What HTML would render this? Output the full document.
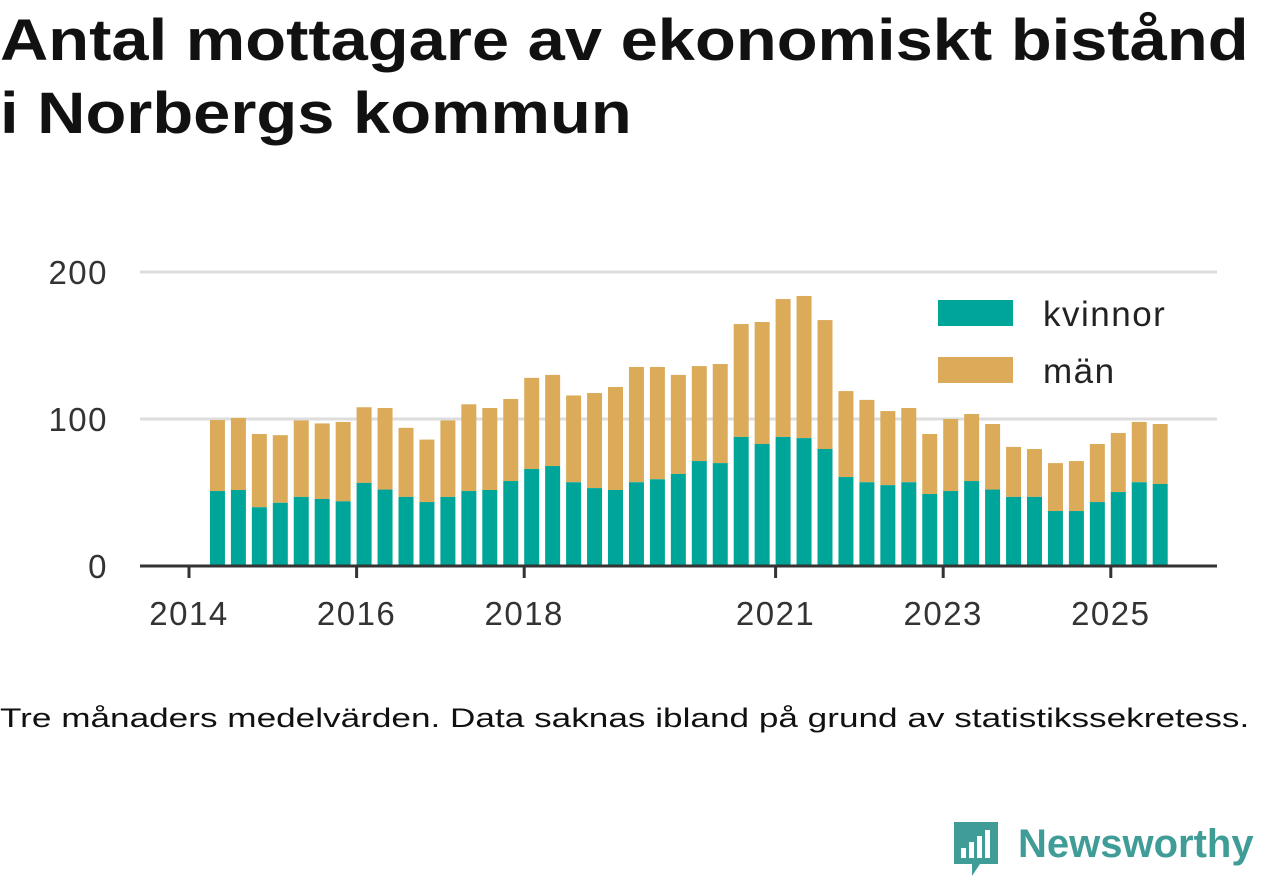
<!DOCTYPE html>
<html><head><meta charset="utf-8"><style>
body{margin:0;background:#fff;width:1262px;height:879px;overflow:hidden;font-family:"Liberation Sans",sans-serif;}
h1{position:absolute;left:0;top:4px;margin:0;font-size:58px;line-height:73px;font-weight:bold;color:#111;transform:scaleX(1.153);transform-origin:0 0;white-space:nowrap}
.note{position:absolute;left:0;top:703px;font-size:27px;color:#111;transform:scaleX(1.302);transform-origin:0 0;white-space:nowrap}
</style></head><body>
<h1>Antal mottagare av ekonomiskt bistånd<br>i Norbergs kommun</h1>
<svg id="chart" width="1262" height="879" style="position:absolute;left:0;top:0"></svg>
<div class="note">Tre månaders medelvärden. Data saknas ibland på grund av statistikssekretess.</div>
<div style="position:absolute;left:952px;top:820px;width:310px;height:60px">
<svg width="50" height="60"><path d="M2 2h44v42H28l-8 12v-12H2z" fill="#3f9c96"/><rect x="9" y="28" width="5" height="10" fill="#fff"/><rect x="17" y="22" width="5" height="16" fill="#fff"/><rect x="25" y="16" width="5" height="22" fill="#fff"/><rect x="33" y="10" width="5" height="28" fill="#fff"/></svg>
<span style="position:absolute;left:66px;top:2px;font-size:40px;font-weight:bold;color:#3f9c96">Newsworthy</span></div>
<script>
const kvinnor=[51,51.7,40,43,47,45.6,44,56.5,52,47,43.5,47,51,51.7,57.8,66,68,57,53,51.7,57,59,62.6,71.4,70,87.8,83,87.8,87,79.6,60.5,57,55,57,49,51,57.8,52,47,47,37.4,37.4,43.5,50.3,57,55.8];
const totals=[99.3,100.7,89.8,89,99,97,98,108,107.5,94,86,99,110,107.5,113.6,128,130,116,117.7,121.8,135.4,135.4,130,136,137.4,164.6,166,181.6,183.7,167.3,119,113,105.4,107.5,89.8,100,103.4,96.6,81,79.6,70,71.4,83,90.5,98,96.6];
const yTicks=[0,100,200];
const xTicks=[2014,2016,2018,2021,2023,2025];
const startYear=2014.25;
const NS="http://www.w3.org/2000/svg";
const svg=document.getElementById('chart');
const ys=v=>566-v*1.47;
const xs=t=>189+(t-2014)*83.8;
function mk(tag,attrs,txt){const e=document.createElementNS(NS,tag);for(const k in attrs)e.setAttribute(k,attrs[k]);if(txt!=null)e.textContent=txt;svg.appendChild(e);return e;}
yTicks.forEach(v=>{
 if(v>0){const g=mk('line',{x1:140,x2:1217,y1:ys(v),y2:ys(v),stroke:'#ddd','stroke-width':3});
 
 }
 const t=mk('text',{x:108,y:ys(v)+12,'text-anchor':'end','font-size':33,'letter-spacing':1.5,fill:'#333','font-family':'Liberation Sans, sans-serif'},v);
 
 
});
totals.forEach((tot,i)=>{
 const x=xs(startYear+i/4);
 const m=mk('rect',{x:x,y:ys(tot),width:15,height:ys(kvinnor[i])-ys(tot),fill:'#dbab5a'});
 
 
 const k=mk('rect',{x:x,y:ys(kvinnor[i]),width:15,height:566-ys(kvinnor[i]),fill:'#00a59a'});
 
 
});
const ax=mk('line',{x1:140,x2:1217,y1:566,y2:566,stroke:'#333','stroke-width':3});


xTicks.forEach(y=>{
 const l=mk('line',{x1:xs(y),x2:xs(y),y1:566,y2:578,stroke:'#333','stroke-width':3});
 
 
 const t=mk('text',{x:xs(y),y:625,'text-anchor':'middle','font-size':33,'letter-spacing':1.5,fill:'#333','font-family':'Liberation Sans, sans-serif'},y);
 
 
});
[['kvinnor','#00a59a',300],['män','#dbab5a',357]].forEach(([n,c,y])=>{
 const r=mk('rect',{x:938,y:y,width:75,height:26,fill:c});
 
 
 const t=mk('text',{x:1043,y:y+26,'font-size':35,'letter-spacing':1.5,fill:'#222','font-family':'Liberation Sans, sans-serif'},n);
 
 
});
</script>
</body></html>
